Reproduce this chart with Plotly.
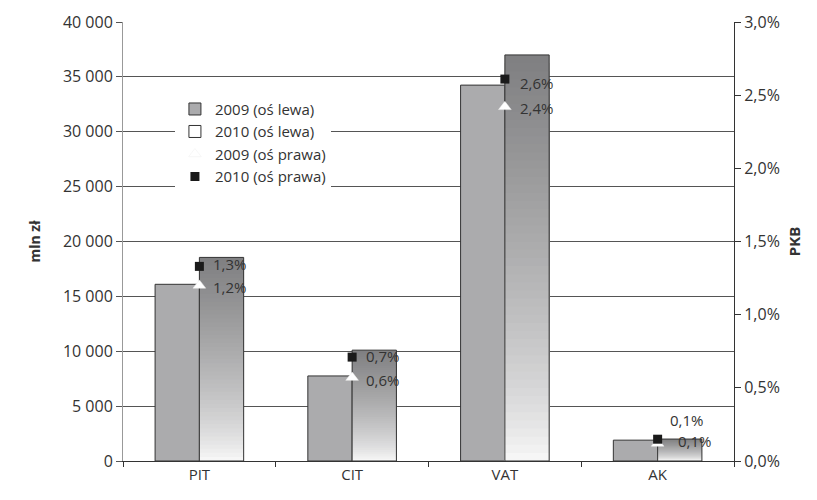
import plotly.graph_objects as go

categories = ["PIT", "CIT", "VAT", "AK"]
mln_2009 = [16100, 7750, 34250, 1900]
mln_2010 = [18550, 10100, 37000, 2000]
pkb_2009 = [1.20, 0.57, 2.42, 0.12]
pkb_2010 = [1.33, 0.71, 2.61, 0.149]
left_ticks = [0, 5000, 10000, 15000, 20000, 25000, 30000, 35000, 40000]
right_ticks = [0.0, 0.5, 1.0, 1.5, 2.0, 2.5, 3.0]

FONT = "Open Sans"
TXT = "#333333"


def pct(v):
    return f"{v:.1f}".replace(".", ",") + "%"


fig = go.Figure()

# 2009 bars (flat grey)
fig.add_trace(go.Bar(
    x=categories, y=mln_2009, name="2009 (oś lewa)", offsetgroup="a",
    marker=dict(color="#ababad", line=dict(color="#333333", width=1)),
    hoverinfo="skip",
))

# 2010 bars: vertical gradient built from nested bars (tallest/darkest first)
N = 50
dark = (128, 128, 130)
light = (255, 255, 255)
for i in range(N):
    frac = 1 - i / N
    t = frac ** 0.7
    r = int(light[0] + (dark[0] - light[0]) * t)
    g = int(light[1] + (dark[1] - light[1]) * t)
    b = int(light[2] + (dark[2] - light[2]) * t)
    fig.add_trace(go.Bar(
        x=categories, y=[v * frac for v in mln_2010], offsetgroup="b",
        showlegend=False, hoverinfo="skip",
        marker=dict(color=f"rgb({r},{g},{b})", line=dict(width=0)),
    ))
fig.add_trace(go.Bar(
    x=categories, y=mln_2010, name="2010 (oś lewa)", offsetgroup="b",
    marker=dict(color="rgba(200,200,200,0)", line=dict(color="#333333", width=1)),
    hoverinfo="skip",
))

# markers on right axis
fig.add_trace(go.Scatter(
    x=categories, y=pkb_2009, yaxis="y2", name="2009 (oś prawa)",
    mode="markers",
    marker=dict(symbol="triangle-up", size=11, color="white",
                line=dict(color="#eeeeee", width=0.5)),
    hoverinfo="skip",
))
fig.add_trace(go.Scatter(
    x=categories, y=pkb_2010, yaxis="y2", name="2010 (oś prawa)",
    mode="markers",
    marker=dict(symbol="square", size=9, color="#1a1a1a"),
    hoverinfo="skip",
))

# value labels (style offsets per point)
shift_2009 = [(13, -2), (13, -2), (14, -1), (19, 2)]
shift_2010 = [(13, 2), (13, 1), (14, -4), (11, 19)]
annotations = []
for cat, v, (dx, dy) in zip(categories, pkb_2009, shift_2009):
    annotations.append(dict(x=cat, y=v, xref="x", yref="y2", text=pct(v),
                            showarrow=False, xanchor="left", yanchor="middle",
                            xshift=dx, yshift=dy, borderpad=0,
                            font=dict(family=FONT, size=15, color=TXT)))
for cat, v, (dx, dy) in zip(categories, pkb_2010, shift_2010):
    annotations.append(dict(x=cat, y=v, xref="x", yref="y2", text=pct(v),
                            showarrow=False, xanchor="left", yanchor="middle",
                            xshift=dx, yshift=dy, borderpad=0,
                            font=dict(family=FONT, size=15, color=TXT)))

fig.update_layout(
    width=817, height=500,
    margin=dict(l=115, r=91, t=14, b=47),
    paper_bgcolor="white", plot_bgcolor="white",
    barmode="group", bargap=0.42, bargroupgap=0,
    separators=", ",
    font=dict(family=FONT, size=16, color=TXT),
    showlegend=True,
    annotations=annotations,
    legend=dict(x=0.085, y=0.725, xanchor="left", yanchor="middle",
                bgcolor="white", font=dict(family=FONT, size=15, color=TXT),
                tracegroupgap=0, itemwidth=30),
    xaxis=dict(
        categoryorder="array", categoryarray=categories,
        showline=True, linecolor="#333333", linewidth=1,
        ticks="outside", tickson="boundaries", ticklen=5, tickcolor="#333333",
        tickfont=dict(family=FONT, size=15, color=TXT),
        showgrid=False, zeroline=False, automargin=False,
    ),
    yaxis=dict(
        range=[0, 40000], tickvals=left_ticks, tickformat=",d",
        showline=True, linecolor="#999999", linewidth=1,
        ticks="outside", ticklen=6, tickcolor="#555555",
        showgrid=True, gridcolor="#555555", gridwidth=1, zeroline=False,
        automargin=False,
        title=dict(text="<b>mln zł</b>", font=dict(family=FONT, size=14, color=TXT), standoff=18),
        tickfont=dict(family=FONT, size=16, color=TXT),
    ),
    yaxis2=dict(
        range=[0, 3.0], tickvals=right_ticks,
        ticktext=[pct(v) for v in right_ticks],
        overlaying="y", side="right",
        showline=True, linecolor="#333333", linewidth=1,
        ticks="outside", ticklen=6, tickcolor="#333333",
        showgrid=False, zeroline=False, automargin=False,
        title=dict(text="<b>PKB</b>", font=dict(family=FONT, size=15, color=TXT), standoff=10),
        tickfont=dict(family=FONT, size=16, color=TXT),
    ),
)

fig.write_html("out.html")
